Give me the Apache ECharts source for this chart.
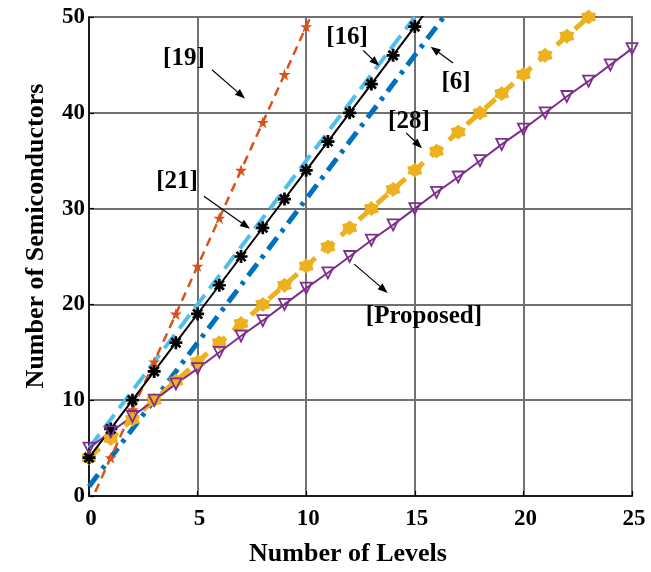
<!DOCTYPE html>
<html><head><meta charset="utf-8">
<script src="https://cdn.jsdelivr.net/npm/echarts@6/dist/echarts.min.js"></script>
<style>html,body{margin:0;padding:0;background:#fff}#c{width:651px;height:572px}</style>
</head><body><div id="c"></div>
<script>
// ---- data ----
const levels = [0,1,2,3,4,5,6,7,8,9,10,11,12,13,14,15,16,17,18,19,20,21,22,23,24,25];
const proposed = [5,6.7,8.3,10,11.7,13.3,15,16.7,18.3,20,21.7,23.3,25,26.7,28.3,30,31.7,33.3,35,36.7,38.3,40,41.7,43.3,45,46.7];
const ref28 = [4,6,8,10,12,14,16,18,20,22,24,26,28,30,32,34,36,38,40,42,44,46,48,50];
const ref16 = [5,8,11,14,17,20,23,26,29,32,35,38,41,44,47,50];
const ref21 = [4,7,10,13,16,19,22,25,28,31,34,37,40,43,46,49,52];
const ref6 = [1,4,7,10,13,16,19,22,25,28,31,34,37,40,43,46,49,52];
const ref19 = [-1,4,9,14,19,24,29,34,39,44,49,54];
const xTickValues = [0,5,10,15,20,25];
const yTickValues = [0,10,20,30,40,50];
const xTitle = 'Number of Levels';
const yTitle = 'Number of Semiconductors';
// annotation labels: text, label pos (data), arrow tail, arrow head (data)
const annLabels = ['[19]','[16]','[6]','[28]','[21]','[Proposed]'];
const annText = [[4.37,45.7],[11.88,47.9],[16.9,43.2],[14.73,39.1],[4.05,32.8],[15.42,18.7]];
const annTail = [[5.66,44.5],[12.63,46.5],[16.76,45.2],[14.6,37.9],[5.29,31.3],[12.21,24.2]];
const annHead = [[7.18,41.5],[13.36,44.9],[15.73,46.9],[15.33,36.3],[7.41,27.9],[13.75,21.2]];

// ---- symbols ----
function starPath(n, R, r){
  let s='';
  for(let i=0;i<2*n;i++){
    const a = -Math.PI/2 + i*Math.PI/n;
    const rad = i%2===0?R:r;
    s += (i===0?'M':'L') + (rad*Math.cos(a)).toFixed(3)+' '+(rad*Math.sin(a)).toFixed(3)+' ';
  }
  return 'path://'+s+'Z';
}
function asteriskPath(R, w){
  let s='';
  for(let k=0;k<4;k++){
    const a = k*Math.PI/4, c=Math.cos(a), sn=Math.sin(a);
    const pts=[[-R,-w],[R,-w],[R,w],[-R,w]].map(p=>[p[0]*c-p[1]*sn, p[0]*sn+p[1]*c]);
    s += 'M'+pts.map(p=>p[0].toFixed(3)+' '+p[1].toFixed(3)).join(' L')+' Z ';
  }
  return 'path://'+s;
}
const pentagram = starPath(5,10,3.82);
const hexagram = starPath(6,10,7.3);
const asterisk = asteriskPath(10,2.1);

const FONT = '"Liberation Serif","Times New Roman",serif';
const pair = arr => arr.map((v,i)=>[levels[i], v]);

const chart = echarts.init(document.getElementById('c'), null, {renderer:'canvas'});
const axisCommon = {
  type:'value',
  axisLine:{show:true, lineStyle:{color:'#000', width:1.5}},
  axisTick:{show:true, inside:true, length:5, lineStyle:{color:'#000', width:1.2}},
  splitLine:{show:true, lineStyle:{color:'#707070', width:2}},
  axisLabel:{color:'#000', fontFamily:FONT, fontWeight:'bold', fontSize:23}
};
chart.setOption({
  animation:false,
  backgroundColor:'#fff',
  grid:{left:89, right:19, top:17, bottom:76, show:true, borderColor:'#000', borderWidth:1.5, outerBoundsMode:'none', containLabel:false},
  xAxis: Object.assign({}, axisCommon, {min:xTickValues[0], max:xTickValues[xTickValues.length-1], interval:xTickValues[1]-xTickValues[0],
    axisLabel:Object.assign({}, axisCommon.axisLabel, {margin:12, padding:[0,0,0,4]})}),
  yAxis: Object.assign({}, axisCommon, {min:yTickValues[0], max:yTickValues[yTickValues.length-1], interval:yTickValues[1]-yTickValues[0],
    axisLabel:Object.assign({}, axisCommon.axisLabel, {margin:4})}),
  series:[
    {name:'[6]', type:'line', data:pair(ref6), showSymbol:false, symbol:'none', clip:true,
      lineStyle:{color:'#0072BD', width:5, type:[15,7,4,7]}},
    {name:'[16]', type:'line', data:pair(ref16), showSymbol:false, symbol:'none', clip:true,
      lineStyle:{color:'#4DBEEE', width:4, type:[17,8]}},
    {name:'[19]', type:'line', data:pair(ref19), symbol:pentagram, symbolSize:12, clip:true,
      lineStyle:{color:'#D95319', width:2.5, type:[9,6]}, itemStyle:{color:'#D95319'}},
    {name:'[28]', type:'line', data:pair(ref28), symbol:hexagram, symbolSize:13, clip:true,
      lineStyle:{color:'#EDB120', width:5, type:[14,10]}, itemStyle:{color:'#EDB120', borderColor:'#EDB120', borderWidth:1.5}},
    {name:'[21]', type:'line', data:pair(ref21), symbol:asterisk, symbolSize:13, clip:true,
      lineStyle:{color:'#000', width:2}, itemStyle:{color:'#000'}},
    {name:'[Proposed]', type:'line', data:pair(proposed), symbol:'triangle', symbolRotate:180, symbolSize:11, clip:true,
      lineStyle:{color:'#7E2F8E', width:2}, itemStyle:{color:'rgba(255,255,255,0)', borderColor:'#7E2F8E', borderWidth:1.8}}
  ]
});

// ---- annotations & titles ----
const g = [];
for(let i=0;i<annLabels.length;i++){
  const t = chart.convertToPixel({gridIndex:0}, annText[i]);
  const a = chart.convertToPixel({gridIndex:0}, annTail[i]);
  const b = chart.convertToPixel({gridIndex:0}, annHead[i]);
  g.push({type:'text', x:t[0], y:t[1], z:100, style:{text:annLabels[i], font:'bold 25px '+FONT, fill:'#000', align:'center', verticalAlign:'middle'}});
  const dx=b[0]-a[0], dy=b[1]-a[1], L=Math.hypot(dx,dy), ux=dx/L, uy=dy/L;
  const hl=10, hw=3.8;
  const bx=b[0]-ux*hl, by=b[1]-uy*hl;
  g.push({type:'line', z:100, shape:{x1:a[0],y1:a[1],x2:bx,y2:by}, style:{stroke:'#000', lineWidth:1.2}});
  g.push({type:'polygon', z:100, shape:{points:[[b[0],b[1]],[bx-uy*hw,by+ux*hw],[bx+uy*hw,by-ux*hw]]}, style:{fill:'#000'}});
}
g.push({type:'text', x:348, y:554, z:100, style:{text:xTitle, font:'bold 26px '+FONT, fill:'#000', align:'center', verticalAlign:'middle'}});
g.push({type:'text', x:36, y:236, rotation:Math.PI/2, z:100, style:{text:yTitle, font:'bold 26px '+FONT, fill:'#000', align:'center', verticalAlign:'middle'}});
chart.setOption({graphic:g});
</script>
</body></html>
